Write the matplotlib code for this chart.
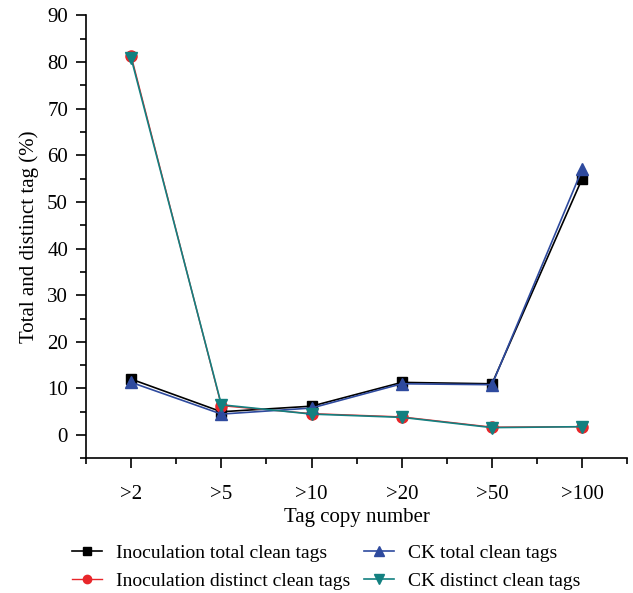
import matplotlib
matplotlib.use("Agg")
import matplotlib.pyplot as plt
from matplotlib.ticker import FixedLocator

plt.rcParams['font.family'] = ['Liberation Serif', 'DejaVu Serif']

categories = [">2", ">5", ">10", ">20", ">50", ">100"]
inoc_total = [12.0, 5.0, 6.2, 11.3, 11.0, 55.0]
inoc_distinct = [81.3, 6.3, 4.6, 3.9, 1.7, 1.8]
ck_total = [11.3, 4.5, 5.8, 11.0, 10.8, 57.0]
ck_distinct = [80.8, 6.5, 4.5, 3.8, 1.6, 1.8]

fig = plt.figure(figsize=(6.33, 5.93), dpi=100)
ax = fig.add_axes([0.136, 0.227, 0.855, 0.747])

x = list(range(len(categories)))
ax.plot(x, inoc_total, color='black', marker='s', ms=7, lw=1.2, label='Inoculation total clean tags')
ax.plot(x, inoc_distinct, color='#e8262a', marker='o', ms=8, lw=1.0, label='Inoculation distinct clean tags')
ax.plot(x, ck_total, color='#2e4a9e', marker='^', ms=9, lw=1.2, label='CK total clean tags')
ax.plot(x, ck_distinct, color='#138080', marker='v', ms=9, lw=1.2, label='CK distinct clean tags')

ax.set_xlim(-0.5, 5.5)
ax.set_ylim(-5, 90)
ax.set_xticks(x)
ax.set_xticklabels(categories)
ax.xaxis.set_minor_locator(FixedLocator([-0.5, 0.5, 1.5, 2.5, 3.5, 4.5, 5.5]))
ax.yaxis.set_major_locator(FixedLocator([0, 10, 20, 30, 40, 50, 60, 70, 80, 90]))
ax.yaxis.set_minor_locator(FixedLocator([-5, 5, 15, 25, 35, 45, 55, 65, 75, 85]))
ax.spines['top'].set_visible(False)
ax.spines['right'].set_visible(False)
for s in ['left', 'bottom']:
    ax.spines[s].set_linewidth(1.2)
ax.tick_params(axis='both', which='major', direction='out', length=7, width=1.2, labelsize=15, pad=6)
ax.tick_params(axis='both', which='minor', direction='out', length=4, width=1.2)
ax.tick_params(axis='x', which='major', pad=12)

ax.set_xlabel('Tag copy number', fontsize=15, labelpad=3)
ax.set_ylabel('Total and distinct tag (%)', fontsize=15, labelpad=6)

leg = fig.legend(loc='upper left', bbox_to_anchor=(0.086, 0.112), ncol=2, frameon=False,
                 fontsize=14, handlelength=1.55, columnspacing=0.72, labelspacing=0.55,
                 handletextpad=0.72, markerscale=0.75)

fig.savefig('out.png', dpi=100)
